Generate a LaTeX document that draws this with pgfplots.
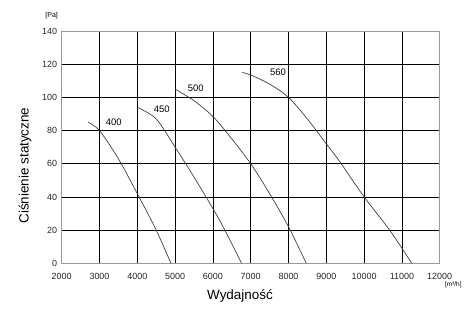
\documentclass[border=0pt]{standalone}
\usepackage{pgfplots}
\pgfplotsset{compat=1.18}
\usepackage{fontspec}
\setmainfont{Liberation Sans}
\begin{document}
\begin{tikzpicture}[x=1bp,y=1bp]
\useasboundingbox (-61.7,-50.7) rectangle (408.3,263.3);
\begin{axis}[
  at={(0,0)}, anchor=south west,
  scale only axis, width=378bp, height=232.3bp,
  xmin=2000, xmax=12000, ymin=0, ymax=140,
  xtick={2000,3000,...,12000}, ytick={0,20,...,140},
  scaled ticks=false,
  grid=major,
  major grid style={black, line width=0.8bp},
  axis line style={draw=black!40, line width=1bp},
  tick style={draw=none},
  /pgf/number format/assume math mode=true,
  /pgf/number format/1000 sep={},
  ticklabel style={font=\fontsize{9}{10}\selectfont, text=black!85},
  xticklabel style={yshift=-6bp},
  yticklabel style={xshift=-1bp},
  clip=false,
]
\addplot[smooth, black!75, line width=0.7bp] coordinates {
 (2700,85) (3000,80) (3500,63) (4000,42) (4500,20) (4890,0)};
\addplot[smooth, black!75, line width=0.7bp] coordinates {
 (4000,94) (4500,87) (5000,70) (5500,52) (6000,33) (6316,20) (6760,0)};
\addplot[smooth, black!75, line width=0.7bp] coordinates {
 (5000,105) (5500,98) (6000,88.5) (6500,75) (7000,60) (7474,43) (8000,22) (8470,0)};
\addplot[smooth, black!75, line width=0.7bp] coordinates {
 (6780,115) (7000,113.5) (7500,108) (8000,100) (8500,87) (9000,72) (9334,62) (10000,40) (10676,20) (11260,0)};
\node[font=\fontsize{9.5}{11}\selectfont] at (axis cs:3376,85) {400};
\node[font=\fontsize{9.5}{11}\selectfont] at (axis cs:4646,92.8) {450};
\node[font=\fontsize{9.5}{11}\selectfont] at (axis cs:5545,105.5) {500};
\node[font=\fontsize{9.5}{11}\selectfont] at (axis cs:7722,114.9) {560};
\end{axis}
\node[font=\fontsize{13.5}{15}\selectfont] at (178.3,-32.7) {Wydajność};
\node[font=\fontsize{13.5}{15}\selectfont, rotate=90] at (-36.7,97.8) {Ciśnienie statyczne};
\node[font=\fontsize{7}{8}\selectfont] at (-10,247.6) {[Pa]};
\node[font=\fontsize{6.5}{7}\selectfont] at (391.6,-21.7) {[m³/h]};
\end{tikzpicture}
\end{document}
